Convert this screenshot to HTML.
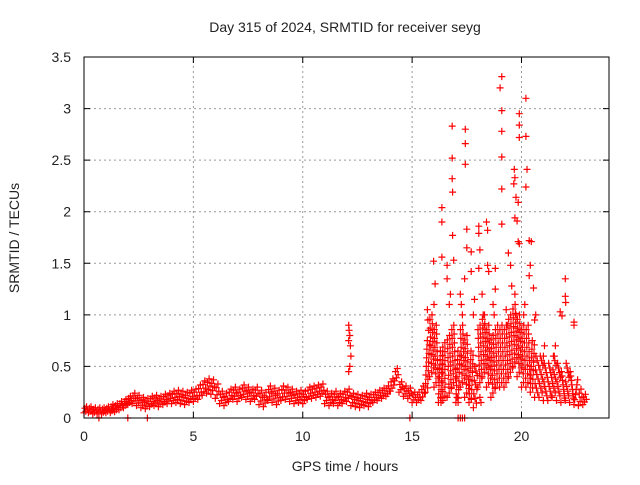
<!DOCTYPE html>
<html><head><meta charset="utf-8"><style>
body{margin:0;background:#fff;}
svg text{font-family:"Liberation Sans",sans-serif;font-size:14px;fill:#222;}
</style></head><body>
<svg width="640" height="480" xmlns="http://www.w3.org/2000/svg">
<rect width="640" height="480" fill="#fff"/>
<text x="345" y="32" text-anchor="middle">Day 315 of 2024, SRMTID for receiver seyg</text>
<text x="345" y="471" text-anchor="middle">GPS time / hours</text>
<text transform="translate(19,238) rotate(-90)" text-anchor="middle">SRMTID / TECUs</text>
<g id="grid"></g>
<g id="marks"></g>
<rect x="84" y="57" width="525" height="361" fill="none" stroke="#000" stroke-width="1"/>
<g id="axes"></g>
</svg>
<script>
const xTicks=[0,5,10,15,20];
const yTicks=[0,0.5,1,1.5,2,2.5,3,3.5];
const yTickLabels=["0","0.5","1","1.5","2","2.5","3","3.5"];
const baseStart=0, baseStep=0.2;
const baseMid=[.08,.08,.07,.07,.07,.08,.09,.1,.12,.14,.17,.19,.17,.15,.14,.16,.17,.16,.18,.19,.2,.21,.2,.19,.21,.22,.25,.29,.31,.3,.26,.2,.18,.22,.24,.22,.26,.24,.22,.24,.2,.18,.24,.22,.2,.24,.24,.22,.2,.21,.2,.24,.25,.26,.27,.2,.18,.2,.18,.2,.22,.18,.17,.16,.18,.17,.2,.22,.24,.26,.32,.42,.3,.26,.24,.2,.2,.24,.5,.7,.6,.4,.45,.5,.6,.4,.6,.5,.4,.3,.6,.7,.6,.5,.6,.6,.6,.7,.8,.7,.6,.6,.5,.4,.4,.35,.35,.4,.35,.3,.35,.3,.25,.2,.18];
const baseSpread=[.03,.03,.03,.03,.03,.03,.04,.04,.04,.04,.04,.05,.05,.05,.05,.05,.05,.05,.05,.05,.06,.06,.06,.06,.06,.06,.07,.07,.07,.07,.07,.06,.06,.06,.06,.06,.06,.06,.06,.06,.07,.07,.07,.07,.07,.07,.06,.06,.06,.06,.06,.06,.06,.06,.06,.06,.06,.06,.06,.06,.06,.06,.06,.06,.06,.06,.05,.05,.05,.05,.06,.06,.05,.05,.05,.05,.05,.07,.25,.3,.3,.25,.28,.3,.3,.25,.3,.3,.25,.2,.3,.3,.3,.3,.3,.3,.3,.3,.3,.3,.3,.3,.25,.2,.2,.18,.18,.2,.18,.15,.18,.15,.12,.08,.05];
const peakT=[19.1,19.02,19.1,20.2,16.83,17.43,17.43,17.43,16.83,16.83,16.85,16.36,16.36,17.5,17.5,16.85,16.9,15.98,16.36,19.1,19.1,19.1,19.1,19.9,19.9,19.9,20.2,20.25,20.2,19.67,19.7,19.65,19.75,19.85,19.7,19.8,18.05,18.4,18.45,18.05,18.1,17.7,19.4,19.85,20.45,20.35,19.9,22.0,22.0,22.02,21.77,21.85,22.4,22.4,16.6,16.6,17.4,17.7,18.05,18.45,18.5,18.8,19.5,19.55,20.35,20.55,20.4,12.1,12.12,12.15,12.1,12.18,12.2,12.15,12.1,15.7,15.72,15.75,16.0,16.05,16.7,16.75,17.2,17.25,17.3,17.8,17.85,18.2,18.25,18.3,18.7,18.75,18.8,19.3,19.35,19.7,19.75,20.1,20.15,20.6,20.65,21.0,21.05,21.5,21.55,16.3,16.32,17.05,17.1,17.7,18.1,18.15,0.68,2.0,2.9,14.9,17.1,17.2,17.3,17.4];
const peakV=[3.31,3.2,2.98,3.1,2.83,2.8,2.66,2.46,2.52,2.32,2.19,2.04,1.9,1.83,1.65,1.77,1.53,1.52,1.56,2.78,2.53,2.22,1.88,2.95,2.84,2.72,2.73,2.41,2.24,2.41,2.33,2.27,2.14,2.09,1.94,1.91,1.86,1.9,1.82,1.79,1.63,1.61,1.6,1.71,1.71,1.72,1.69,1.35,1.18,1.12,1.03,0.99,0.93,0.9,1.48,1.35,1.35,1.42,1.45,1.48,1.42,1.45,1.48,1.28,1.38,1.26,1.48,0.9,0.85,0.8,0.75,0.7,0.6,0.5,0.45,1.05,0.95,0.85,1.1,1.3,1.1,1.2,1.2,1.1,1.0,1.0,1.15,1.2,1.0,0.9,1.1,1.0,1.25,1.05,0.9,1.2,1.0,1.0,1.1,0.95,1.0,0.6,0.7,0.6,0.7,0.2,0.15,0.2,0.15,0.18,0.2,0.15,0,0,0,0,0,0,0,0];
const X0=84,X1=609,Y0=418,Y1=57,XMAX=24,YMAX=3.5;
function xs(t){return X0+(X1-X0)*t/XMAX;}
function ys(v){return Y0-(Y0-Y1)*v/YMAX;}
const NS="http://www.w3.org/2000/svg";
const grid=document.getElementById('grid'),axes=document.getElementById('axes'),marks=document.getElementById('marks');
function mk(tag,attrs,parent){const e=document.createElementNS(NS,tag);for(const k in attrs)e.setAttribute(k,attrs[k]);parent.appendChild(e);return e;}
xTicks.forEach(t=>{const x=xs(t);
 if(t>0){const g=mk('line',{x1:x,x2:x,y1:Y0,y2:Y1,stroke:'#999','stroke-dasharray':'2,3'},grid);}
 const tk=mk('path',{d:`M${x},${Y0}v-6M${x},${Y1}v6`,stroke:'#000'},axes);
 const l=mk('text',{x:x,y:Y0+23,'text-anchor':'middle'},axes);l.textContent=String(t);});
yTicks.forEach((v,i)=>{const y=ys(v);
 if(v>0&&v<YMAX){const g=mk('line',{x1:X0,x2:X1,y1:y,y2:y,stroke:'#999','stroke-dasharray':'2,3'},grid);}
 const tk=mk('path',{d:`M${X0},${y}h6M${X1},${y}h-6`,stroke:'#000'},axes);
 const l=mk('text',{x:X0-13,y:y+5,'text-anchor':'end'},axes);l.textContent=yTickLabels[i];});
let d='';
function plus(t,v){const x=xs(t),y=ys(v);d+=`M${(x-3.5).toFixed(1)},${y.toFixed(1)}h7M${x.toFixed(1)},${(y-3.5).toFixed(1)}v7`;}
baseMid.forEach((m,i)=>{const t=baseStart+i*baseStep,s=baseSpread[i];
 const n=Math.max(5,Math.round(s*50));
 for(let j=0;j<n;j++){const k=-1+2*j/(n-1);const dt=((j*7)%n)/n*baseStep;
  plus(t+dt,Math.max(0.02,m+k*s));}});
peakT.forEach((t,i)=>plus(t,peakV[i]));
const p=mk('path',{d:d,stroke:'#f00','stroke-width':'1.2',fill:'none'},marks);


</script>
</body></html>
